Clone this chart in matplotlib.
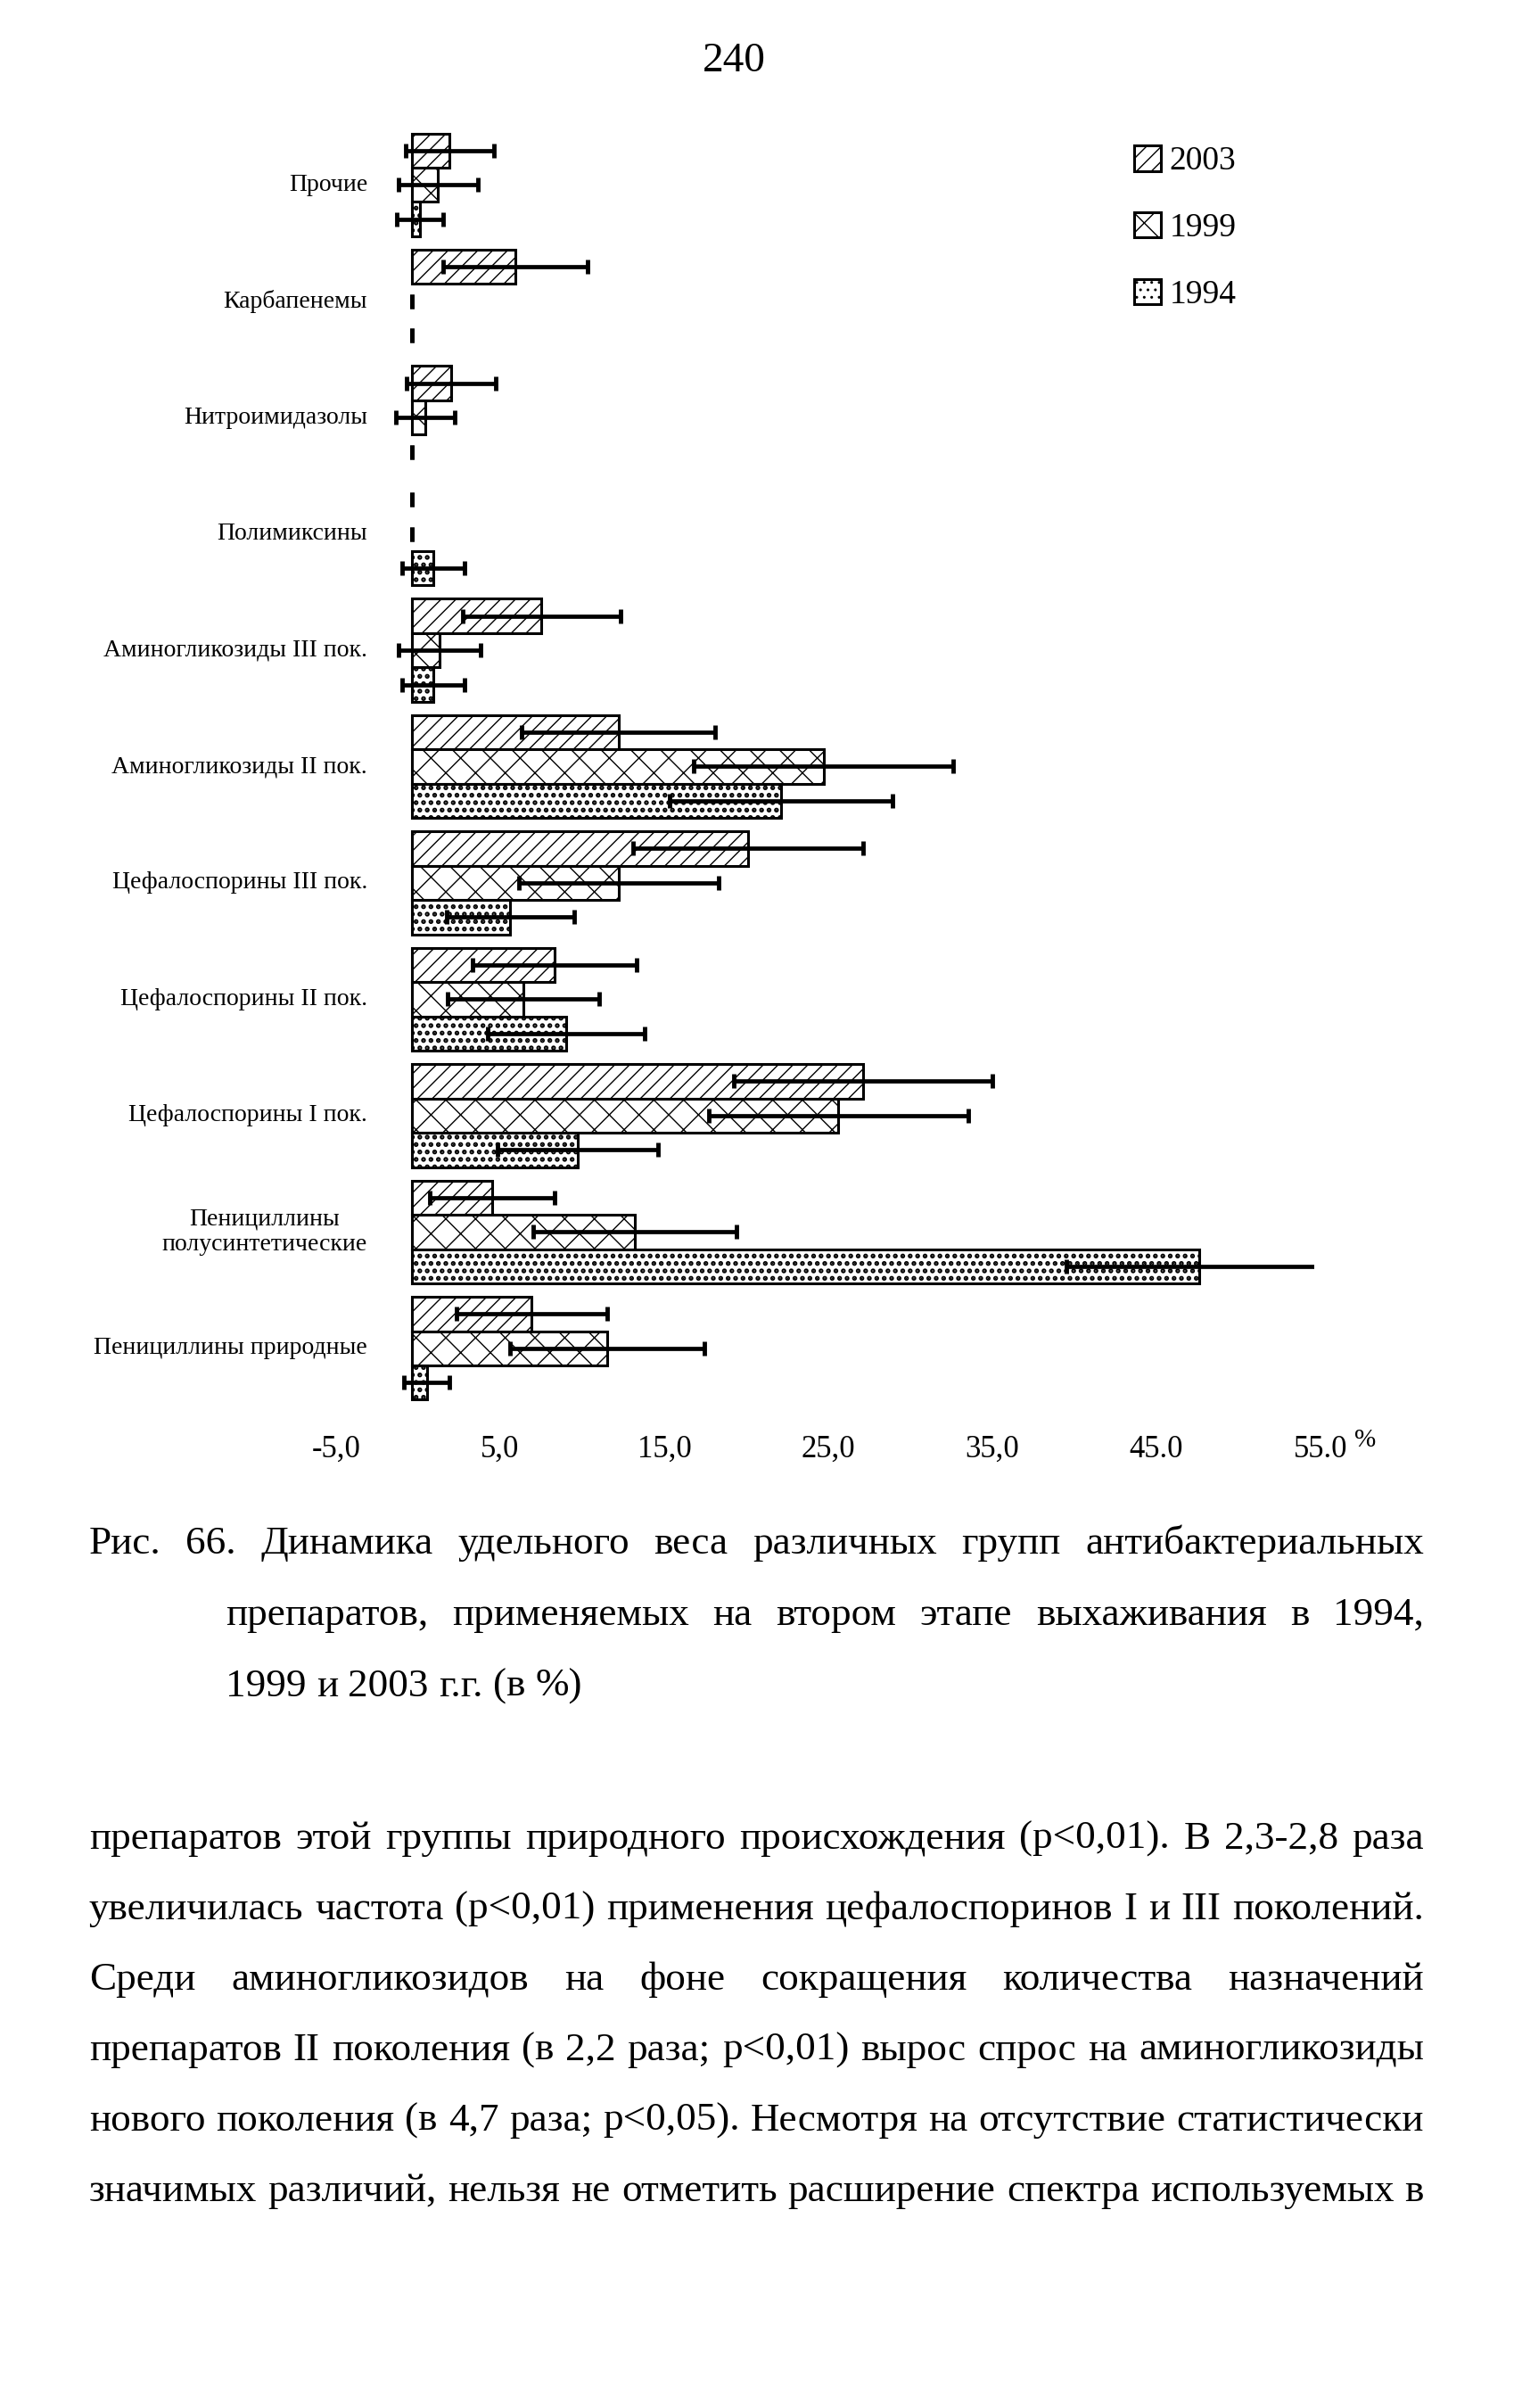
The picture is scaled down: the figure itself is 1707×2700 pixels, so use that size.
import matplotlib
matplotlib.use('Agg')
import matplotlib.pyplot as plt
from matplotlib.transforms import ScaledTranslation
import numpy as np

plt.rcParams['font.family'] = ['Liberation Serif', 'DejaVu Serif']
plt.rcParams['hatch.linewidth'] = 1.0

W, H = 1707, 2700

# categories listed from top of the chart to bottom
categories = ["Прочие", "Карбапенемы", "Нитроимидазолы", "Полимиксины",
              "Аминогликозиды III пок.", "Аминогликозиды II пок.",
              "Цефалоспорины III пок.", "Цефалоспорины II пок.",
              "Цефалоспорины I пок.", "Пенициллины\nполусинтетические",
              "Пенициллины природные"]

years = ["2003", "1999", "1994"]
v2003 = [2.3, 6.3, 2.4, 0, 7.9, 12.6, 20.5, 8.7, 27.5, 4.9, 7.3]
e2003 = [2.7, 4.4, 2.7, 0, 4.8, 5.9, 7.0, 5.0, 7.9, 3.8, 4.6]
v1999 = [1.6, 0, 0.8, 0, 1.7, 25.1, 12.6, 6.8, 26.0, 13.6, 11.9]
e1999 = [2.4, 0, 1.8, 0, 2.5, 7.9, 6.1, 4.6, 7.9, 6.2, 5.9]
v1994 = [0.5, 0, 0, 1.3, 1.3, 22.5, 6.0, 9.4, 10.1, 48.0, 0.9]
e1994 = [1.4, 0, 0, 1.9, 1.9, 6.8, 3.9, 4.8, 4.9, 8.1, 1.4]

xticks = [-5, 5, 15, 25, 35, 45, 55]
xticklabels = ["-5,0", "5,0", "15,0", "25,0", "35,0", "45.0", "55.0"]

caption = ["Рис. 66. Динамика удельного веса различных групп антибактериальных",
           "препаратов, применяемых на втором этапе выхаживания в 1994,",
           "1999 и 2003 г.г. (в %)"]
body = ["препаратов этой группы природного происхождения (р<0,01). В 2,3-2,8 раза",
        "увеличилась частота (р<0,01) применения цефалоспоринов I и III поколений.",
        "Среди аминогликозидов на фоне сокращения количества назначений",
        "препаратов II поколения (в 2,2 раза; р<0,01) вырос спрос на аминогликозиды",
        "нового поколения (в 4,7 раза; р<0,05). Несмотря на отсутствие статистически",
        "значимых различий, нельзя не отметить расширение спектра используемых в"]

fig = plt.figure(figsize=(W / 100, H / 100), dpi=100)
ax = fig.add_axes([370 / W, 1 - 1577 / H, 1104 / W, 1435 / H])

n = len(categories)
y = np.arange(n)[::-1].astype(float)
h = 0.295
# value list, error list, hatch, hatch line width, offset inside the group
series = [(v2003, e2003, '//', 1.0, +h), (v1999, e1999, 'x', 1.0, 0.0),
          (v1994, e1994, '..', 2.6, -h)]
handles = []
for (vals, errs, hatch, hlw, off), yr in zip(series, years):
    with plt.rc_context({'hatch.linewidth': hlw}):
        bars = ax.barh(y + off, vals, height=h, color='white', edgecolor='black',
                       linewidth=2.2, hatch=hatch, label=yr, zorder=2)
    for p in bars.patches:
        if hasattr(p, 'set_hatch_linewidth'):
            p.set_hatch_linewidth(hlw)
        if p.get_width() == 0:
            p.set_linewidth(0)
    ax.errorbar(vals, y + off, xerr=errs, fmt='none', ecolor='black',
                elinewidth=3.4, capsize=6, capthick=3.5, zorder=3)
    handles.append(bars)

for yi, cat in zip(y, categories):
    ax.annotate(cat, xy=(0, yi), xytext=(-36, 0), textcoords='offset points',
                ha='right', va='center', multialignment='center', fontsize=20)

ax.set_xlim(-5, 55)
ax.set_ylim(-0.5, n - 0.5)
ax.set_xticks(xticks)
ax.set_xticklabels(xticklabels, fontsize=25)
ax.set_yticks([])
ax.tick_params(axis='x', length=0, pad=23)
for lab in ax.get_xticklabels():
    lab.set_transform(lab.get_transform() + ScaledTranslation(0.07, 0, fig.dpi_scale_trans))
for s in ax.spines.values():
    s.set_visible(False)

fig.text(1519 / W, 1 - 1622 / H, '%', fontsize=21, va='baseline')

leg = ax.legend(handles, years, loc='upper left', bbox_to_anchor=(1272 / W, 1 - 163 / H),
                bbox_transform=fig.transFigure, frameon=False, fontsize=27,
                handlelength=0.8, handleheight=0.8, handletextpad=0.25,
                labelspacing=1.05, borderpad=0, borderaxespad=0)

# page number
fig.text(823 / W, 1 - 80 / H, '240', fontsize=34, ha='center', va='baseline')

renderer = fig.canvas.get_renderer()


def put_line(text, base, x0, x1, size, justify=True):
    words = text.split(' ')
    objs = [fig.text(0, 1 - base / H, w, fontsize=size, va='baseline') for w in words]
    widths = [o.get_window_extent(renderer).width for o in objs]
    if justify and len(words) > 1:
        gap = (x1 - x0 - sum(widths)) / (len(words) - 1)
    else:
        gap = size * 100 / 72 * 0.25
    x = x0
    for o, wd in zip(objs, widths):
        o.set_x(x / W)
        x += wd + gap


put_line(caption[0], 1742, 100, 1597, 32.5)
put_line(caption[1], 1822, 253, 1597, 32.5)
put_line(caption[2], 1902, 253, 1597, 32.5, justify=False)
for i, line in enumerate(body):
    put_line(line, 2073 + 79 * i, 100, 1597, 32.5)

fig.savefig('out.png', dpi=100)
